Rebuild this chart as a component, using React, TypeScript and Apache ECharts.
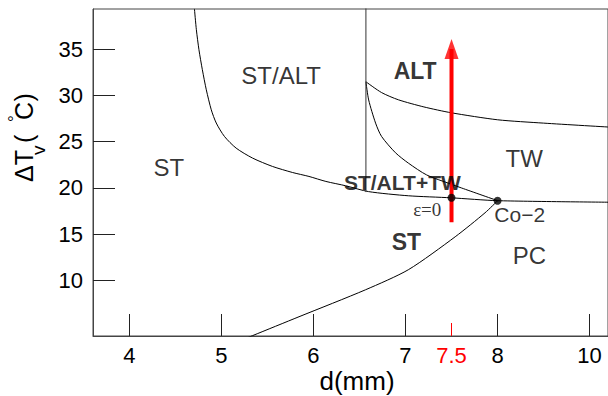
import React, { useEffect, useRef } from "react";
import * as echarts from "echarts";

// ---- data ----
const xTickValues = [4, 5, 6, 7, 8, 10];
const xHighlightTick = 7.5;
const yTickValues = [10, 15, 20, 25, 30, 35];

// ST | ST/ALT boundary, continuing to the right as the lower TW boundary
const stBoundaryD = [4.707, 4.728, 4.756, 4.793, 4.836, 4.89, 4.944, 5.033, 5.16, 5.339, 5.555, 5.771, 5.951, 6.135, 6.351, 6.599, 7.031, 7.496, 8.003, 10.5];
const stBoundaryT = [39.35, 37.09, 34.93, 32.77, 30.6, 28.44, 27.01, 25.56, 24.3, 23.22, 22.32, 21.67, 21.24, 20.7, 20.23, 19.6, 19.15, 18.93, 18.62, 18.45];

// ALT | TW boundary
const altTwD = [6.57, 6.74, 6.923, 7.2, 7.496, 8.003, 9.0, 10.5];
const altTwT = [31.47, 30.3, 29.52, 28.75, 28.12, 27.36, 27.0, 26.55];

// TW lower-left boundary to Co-2
const twLowD = [6.57, 6.6, 6.675, 6.74, 6.891, 7.031, 7.23, 7.496, 7.607, 8.003];
const twLowT = [31.47, 29.5, 27.0, 25.56, 23.8, 22.68, 21.4, 20.4, 20.0, 18.62];

// ST | PC boundary from Co-2 downwards
const pcD = [8.003, 7.864, 7.54, 7.031, 6.567, 5.843, 5.336, 5.2];
const pcT = [18.62, 17.31, 14.72, 11.16, 9.0, 6.08, 4.03, 3.48];

// vertical divider
const dividerD = 6.57;
const dividerT = [39.5, 19.55];

// red arrow at d = 7.5
const arrowD = 7.5;
const arrowT = [16.3, 35.0];

// marked points (epsilon = 0, Co-2)
const pointD = [7.5, 8.0];
const pointT = [18.93, 18.62];

// region labels
const regionLabels = ["ST", "ST/ALT", "ALT", "TW", "ST/ALT+TW", "ε=0", "Co−2", "ST", "PC"];
const regionD = [4.429, 5.649, 7.105, 8.578, 6.966, 7.236, 8.482, 7.01, 8.692];
const regionT = [22.23, 32.19, 32.68, 23.22, 20.59, 17.67, 17.1, 14.2, 12.69];

// ---- helpers ----
// the d axis is linear up to 8, then 8..10 spans one tick interval
const toU = (d: number) => (d <= 8 ? d : 8 + (d - 8) / 2);
const fromU = (u: number) => (u <= 8 ? u : 8 + (u - 8) * 2);
const pts = (ds: number[], ts: number[]) => ds.map((d, i) => [toU(d), ts[i]]);

const SANS = "Liberation Sans";
const labelStyles: any[] = [
  { fontSize: 24, fontWeight: "normal", fontFamily: SANS },
  { fontSize: 24, fontWeight: "normal", fontFamily: SANS },
  { fontSize: 23, fontWeight: "bold", fontFamily: SANS },
  { fontSize: 24, fontWeight: "normal", fontFamily: SANS },
  { fontSize: 21, fontWeight: "bold", fontFamily: SANS },
  { fontSize: 19, fontWeight: "normal", fontFamily: "Liberation Serif" },
  { fontSize: 21, fontWeight: "normal", fontFamily: SANS },
  { fontSize: 23, fontWeight: "bold", fontFamily: SANS },
  { fontSize: 24, fontWeight: "normal", fontFamily: SANS },
];

export default function App() {
  const ref = useRef<HTMLDivElement>(null);

  useEffect(() => {
    if (!ref.current) return;
    const chart = echarts.init(ref.current, undefined, { renderer: "svg" });

    const xMin = 3.605;
    const xMax = 9.2;
    const curveStyle = { color: "#000", width: 1 };
    const lineSeries = (data: number[][], z = 2) => ({
      type: "line",
      data,
      symbol: "none",
      smooth: 0.25,
      lineStyle: curveStyle,
      z,
      silent: true,
    });

    const option: any = {
      animation: false,
      backgroundColor: "#fff",
      grid: {
        left: 93,
        top: 9,
        width: 518,
        height: 327,
        show: true,
        borderColor: "#444",
        borderWidth: 1,
      },
      xAxis: [
        {
          type: "value",
          position: "bottom",
          min: xMin,
          max: xMax,
          axisLine: { show: true, lineStyle: { color: "#444", width: 1 } },
          axisTick: {
            show: true,
            inside: true,
            length: 22,
            customValues: xTickValues.map(toU),
            lineStyle: { color: "#222", width: 1 },
          },
          axisLabel: {
            show: true,
            customValues: xTickValues.map(toU),
            formatter: (v: number) => String(Math.round(fromU(v) * 10) / 10),
            fontSize: 22,
            fontFamily: SANS,
            color: "#000",
            margin: 8,
          },
          splitLine: { show: false },
        },
        {
          type: "value",
          position: "bottom",
          min: xMin,
          max: xMax,
          axisLine: { show: false },
          axisTick: {
            show: true,
            inside: true,
            length: 13,
            customValues: [toU(xHighlightTick)],
            lineStyle: { color: "#f00", width: 1 },
          },
          axisLabel: {
            show: true,
            customValues: [toU(xHighlightTick)],
            formatter: (v: number) => String(fromU(v)),
            fontSize: 22,
            fontFamily: SANS,
            color: "#f00",
            margin: 8,
          },
          splitLine: { show: false },
        },
      ],
      yAxis: {
        type: "value",
        min: 4,
        max: 39.33,
        axisLine: { show: true, lineStyle: { color: "#444", width: 1 } },
        axisTick: {
          show: true,
          inside: true,
          length: 22,
          customValues: yTickValues,
          lineStyle: { color: "#222", width: 1 },
        },
        axisLabel: {
          show: true,
          customValues: yTickValues,
          fontSize: 22,
          fontFamily: SANS,
          color: "#000",
          margin: 10,
        },
        splitLine: { show: false },
      },
      graphic: [
        {
          type: "text",
          x: 357,
          y: 381,
          style: {
            text: "d(mm)",
            font: `26px "${SANS}"`,
            fill: "#000",
            align: "center",
            verticalAlign: "middle",
          },
        },
        {
          type: "group",
          x: 33,
          y: 182,
          rotation: Math.PI / 2,
          children: [
            { type: "text", x: 0, y: -8.7, style: { text: "ΔT", font: `25px "${SANS}"`, fill: "#000", align: "left", verticalAlign: "middle" } },
            { type: "text", x: 27, y: 5.4, style: { text: "v", font: `19px "${SANS}"`, fill: "#000", align: "left", verticalAlign: "middle" } },
            { type: "text", x: 39, y: -8.7, style: { text: "(", font: `25px "${SANS}"`, fill: "#000", align: "left", verticalAlign: "middle" } },
            { type: "text", x: 60, y: -19, style: { text: "°", font: `17px "${SANS}"`, fill: "#000", align: "left", verticalAlign: "middle" } },
            { type: "text", x: 62, y: -8.7, style: { text: "C", font: `25px "${SANS}"`, fill: "#000", align: "left", verticalAlign: "middle" } },
            { type: "text", x: 80.5, y: -8.7, style: { text: ")", font: `25px "${SANS}"`, fill: "#000", align: "left", verticalAlign: "middle" } },
          ],
        },
      ],
      series: [
        lineSeries(pts(stBoundaryD, stBoundaryT)),
        lineSeries(pts(altTwD, altTwT)),
        lineSeries(pts(twLowD, twLowT)),
        lineSeries(pts(pcD, pcT)),
        {
          type: "line",
          data: dividerT.map((t) => [toU(dividerD), t]),
          symbol: "none",
          lineStyle: { color: "#333", width: 1 },
          z: 2,
          silent: true,
        },
        {
          type: "line",
          data: arrowT.map((t) => [toU(arrowD), t]),
          symbol: "none",
          lineStyle: { color: "#f00", width: 4 },
          z: 3,
          silent: true,
        },
        {
          type: "scatter",
          data: [[toU(arrowD), arrowT[1]]],
          symbol: "triangle",
          symbolSize: [14, 20],
          itemStyle: { color: "#f00" },
          z: 3,
          silent: true,
        },
        {
          type: "scatter",
          data: pts(pointD, pointT),
          symbol: "circle",
          symbolSize: 8,
          itemStyle: { color: "#000" },
          z: 4,
          silent: true,
        },
        {
          type: "scatter",
          data: regionLabels.map((name, i) => ({
            name,
            value: [toU(regionD[i]), regionT[i]],
            label: { ...labelStyles[i] },
          })),
          symbolSize: 1,
          itemStyle: { color: "rgba(0,0,0,0)" },
          label: {
            show: true,
            position: "inside",
            formatter: (p: any) => p.name,
            color: "#000",
            align: "center",
            verticalAlign: "middle",
          },
          z: 5,
          silent: true,
        },
      ],
    };

    chart.setOption(option);
    return () => chart.dispose();
  }, []);

  return (
    <div
      ref={ref}
      style={{ position: "absolute", left: 0, top: 0, width: 608, height: 396 }}
    />
  );
}
